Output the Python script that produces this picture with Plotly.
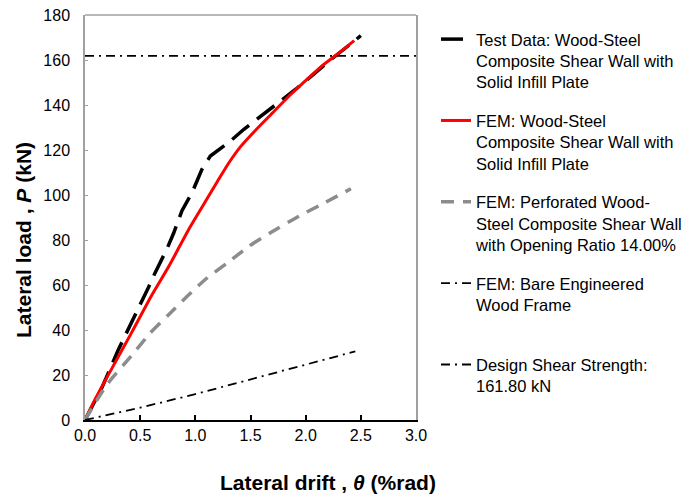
import plotly.graph_objects as go

# Data
test_x = [0.0, 0.15, 0.3, 0.41, 0.47, 0.576, 0.636, 0.742, 0.803, 0.879, 0.97, 1.06, 1.136,
          1.318, 1.44, 1.62, 1.74, 1.91, 2.197, 2.5]
test_y = [0.0, 14, 31, 42, 48.5, 59, 65.5, 76, 83, 93, 101, 111.4, 117.3,
          124, 129.2, 135.9, 140.4, 147, 158.9, 170.8]

fem_x = [0.0, 0.1, 0.25, 0.42, 0.6, 0.76, 0.94, 1.09, 1.2, 1.3, 1.41, 1.55, 1.71, 1.85,
         2.015, 2.15, 2.29, 2.44]
fem_y = [0.0, 10, 23.5, 38.6, 55, 68.3, 84.7, 97, 106, 114, 121.5, 129, 137, 144,
         151.5, 157.5, 162.7, 168.6]

perf_x = [0.0, 0.197, 0.44, 0.59, 0.758, 0.924, 1.106, 1.29, 1.485, 1.68, 1.94, 2.17, 2.41]
perf_y = [0.0, 15.6, 29.7, 38.6, 46.8, 54.9, 63.1, 69.8, 77.2, 83.2, 90.6, 96.5, 102.8]

bare_x = [0.0, 0.5, 1.0, 1.5, 2.076, 2.45]
bare_y = [0.0, 5.5, 11.5, 18.0, 25.3, 30.5]

design_x = [0.0, 3.0]
design_y = [161.8, 161.8]

names = [
    "Test Data: Wood-Steel<br>Composite Shear Wall with<br>Solid Infill Plate",
    "FEM: Wood-Steel<br>Composite Shear Wall with<br>Solid Infill Plate",
    "FEM: Perforated Wood-<br>Steel Composite Shear Wall<br>with Opening Ratio 14.00%",
    "FEM: Bare Engineered<br>Wood Frame<br> ",
    "Design Shear Strength:<br>161.80 kN",
]

x_ticks = [0.0, 0.5, 1.0, 1.5, 2.0, 2.5, 3.0]
y_ticks = [0, 20, 40, 60, 80, 100, 120, 140, 160, 180]

FONT = "Liberation Sans, Arial, sans-serif"

fig = go.Figure()
fig.add_trace(go.Scatter(x=test_x, y=test_y, mode="lines", name=names[0], legendgroup="a",
                         line=dict(color="black", width=3.5, dash="22px,10px")))
fig.add_trace(go.Scatter(x=fem_x, y=fem_y, mode="lines", name=names[1], legendgroup="b",
                         line=dict(color="#ff0000", width=3, shape="spline", smoothing=0.6)))
fig.add_trace(go.Scatter(x=perf_x, y=perf_y, mode="lines", name=names[2], legendgroup="c",
                         line=dict(color="#8c8c8c", width=3.5, dash="13px,9px",
                                   shape="spline", smoothing=0.6)))
fig.add_trace(go.Scatter(x=bare_x, y=bare_y, mode="lines", name=names[3], legendgroup="d",
                         line=dict(color="black", width=1.8, dash="9px,5px,2px,5px")))
fig.add_trace(go.Scatter(x=design_x, y=design_y, mode="lines", name=names[4], legendgroup="e",
                         line=dict(color="black", width=1.8, dash="9px,5px,2px,5px")))

fig.update_layout(
    width=685, height=497,
    margin=dict(l=85, r=269, t=15, b=77, autoexpand=False),
    paper_bgcolor="white", plot_bgcolor="white",
    font=dict(family=FONT, size=16, color="black"),
    showlegend=True,
    legend=dict(x=(436 - 85) / 331, y=0.983, xanchor="left", yanchor="top", valign="top",
                tracegroupgap=14, font=dict(size=16.5, color="black", family=FONT),
                bgcolor="rgba(0,0,0,0)", itemwidth=30),
    xaxis=dict(range=[0, 3.0], tickvals=x_ticks, ticktext=[f"{v:.1f}" for v in x_ticks],
               showgrid=False, zeroline=False, showline=True, linecolor="black", linewidth=2,
               ticks="inside", ticklen=5, tickcolor="black", tickwidth=1.5,
               tickfont=dict(size=16)),
    yaxis=dict(range=[0, 180], tickvals=y_ticks, showgrid=False, zeroline=False,
               showline=True, linecolor="#a0a0a0", linewidth=1.5, mirror=True,
               ticks="inside", ticklen=3, tickcolor="#a0a0a0", tickfont=dict(size=16),
               ticklabelstandoff=10),
    shapes=[dict(type="line", xref="paper", yref="paper", x0=0, x1=1, y0=1, y1=1,
                 line=dict(color="#a0a0a0", width=1.5))],
    annotations=[
        dict(text="<b>Lateral drift , <i>θ</i> (%rad)</b>", xref="paper", yref="paper",
             x=(328 - 85) / 331, y=-(483 - 420) / 405, xanchor="center", yanchor="middle",
             showarrow=False, font=dict(size=21, family=FONT, color="black")),
        dict(text="<b>Lateral load , <i>P</i> (kN)</b>", xref="paper", yref="paper",
             x=-(85 - 23) / 331, y=(420 - 240) / 405, xanchor="center", yanchor="middle",
             textangle=-90, showarrow=False,
             font=dict(size=21, family=FONT, color="black")),
    ],
)

fig.write_html("out.html")
